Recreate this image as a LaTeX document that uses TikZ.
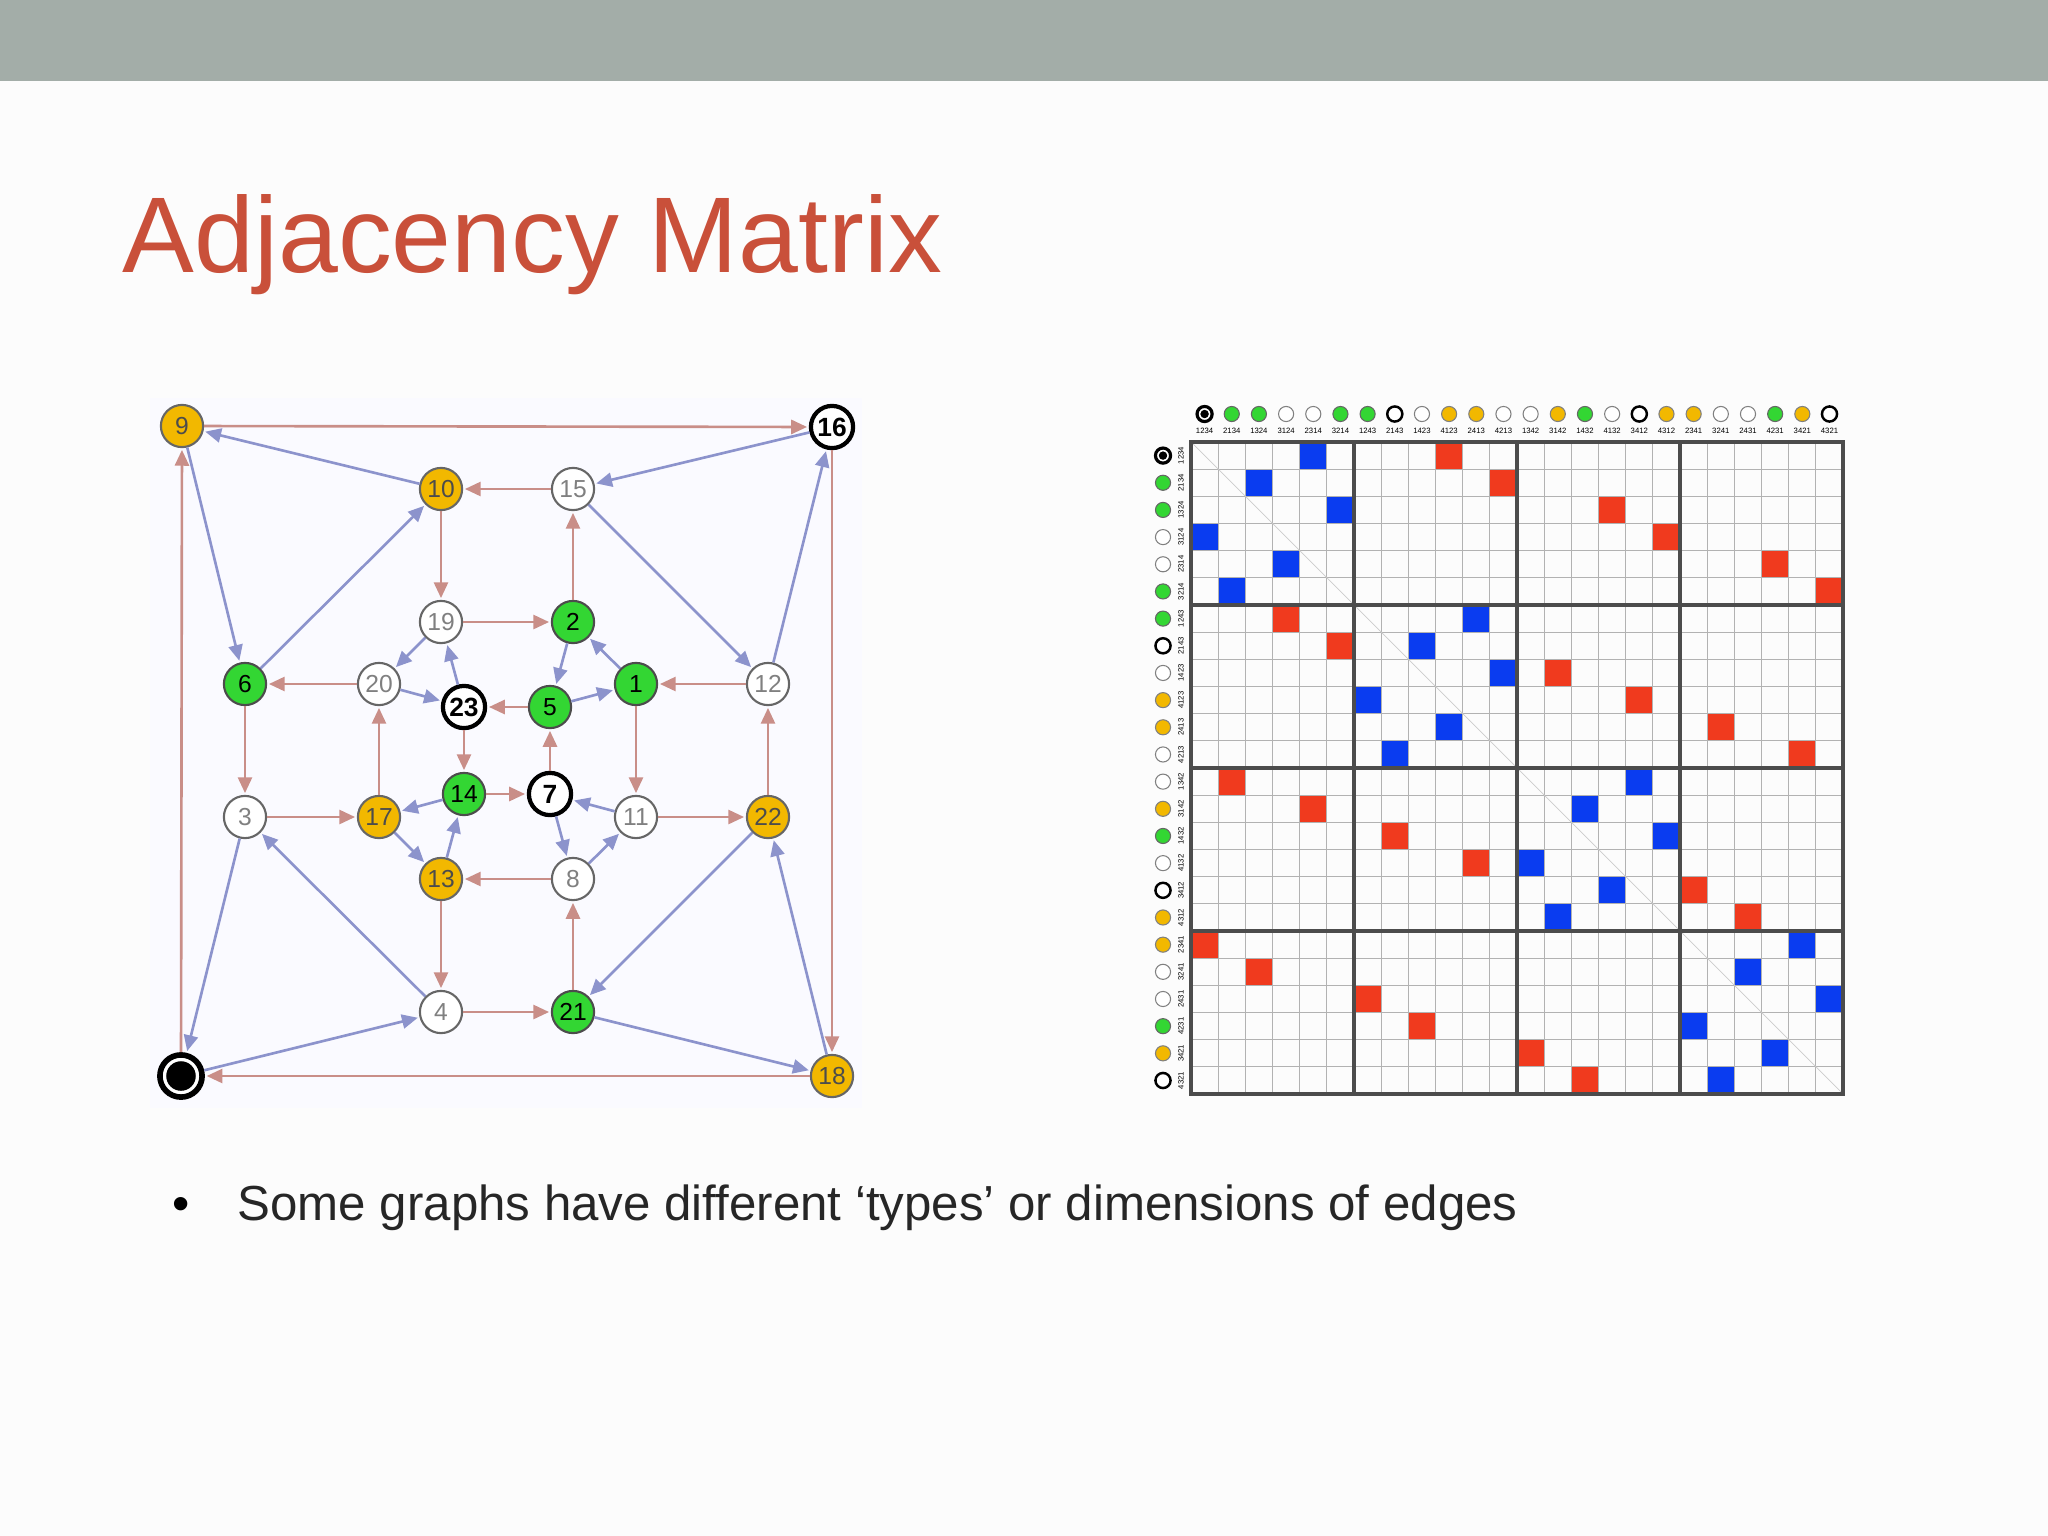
\documentclass[tikz,border=0pt]{standalone}
\usepackage{fontspec}
\setmainfont{Liberation Sans}
\usetikzlibrary{arrows.meta}
\definecolor{barc}{HTML}{A3ADA8}
\definecolor{titlec}{HTML}{C9503A}
\definecolor{redE}{HTML}{C98E88}
\definecolor{bluE}{HTML}{8C93CC}
\definecolor{gfill}{HTML}{33D633}
\definecolor{yfill}{HTML}{F2B800}
\definecolor{mred}{HTML}{F03A1E}
\definecolor{mblue}{HTML}{0A3CF0}
\tikzset{
 nd/.style={circle,draw=gray!80!black,line width=0.6pt,minimum size=12pt,inner sep=0pt,font=\fontsize{7}{7}\selectfont},
 gn/.style={nd,fill=gfill,draw=black!70},
 yn/.style={nd,fill=yfill,draw=black!60,text=black!70},
 wn/.style={nd,fill=white,text=gray},
 bn/.style={nd,fill=white,draw=black,line width=1.2pt,font=\fontsize{7.5}{7.5}\selectfont\bfseries},
 re/.style={draw=redE,line width=0.75pt,-{Triangle[length=4.5pt,width=4pt]},shorten >=0.5pt},
 be/.style={draw=bluE,line width=0.75pt,-{Triangle[length=4.5pt,width=4pt]},shorten >=0.5pt},
 mc/.style={circle,draw=black!60,line width=0.3pt,minimum size=4.3pt,inner sep=0pt},
 tiny/.style={font=\fontsize{2.2}{2.2}\selectfont,inner sep=0pt}
}
\begin{document}
\begin{tikzpicture}[x=0.01cm,y=-0.01cm]
\useasboundingbox (0,0) rectangle (2048,1536);
\fill[white!98!gray] (0,0) rectangle (2048,1536);
\fill[barc] (0,0) rectangle (2048,81);
\node[anchor=base west,text=titlec,font=\fontsize{30.6}{32}\selectfont,inner sep=0pt] (title) at (122,272) {Adjacency Matrix};
\node[anchor=base west,font=\fontsize{14}{16}\selectfont,inner sep=0pt] (bul) at (172,1220) {\textbullet};
\node[anchor=base west,font=\fontsize{14}{16}\selectfont,inner sep=0pt,text=black!85] (txt) at (237,1220) {Some graphs have different ‘types’ or dimensions of edges};
% graph background
\fill[blue!2] (150,398) rectangle (862,1108);
% nodes
\node[yn] (n9) at (182,426) {9};
\node[bn] (n16) at (832,427) {16};
\node[nd,fill=white,draw=black,line width=1.6pt] (n0) at (181,1076) {};
\fill[black] (n0.center) circle (4.2pt);
\node[yn] (n18) at (832,1076) {18};
\node[yn] (n10) at (441,489) {10};
\node[wn] (n15) at (573,489) {15};
\node[wn] (n19) at (441,622) {19};
\node[gn] (n2) at (573,622) {2};
\node[gn] (n6) at (245,684) {6};
\node[wn] (n20) at (379,684) {20};
\node[bn] (n23) at (464,707) {23};
\node[gn] (n5) at (550,707) {5};
\node[gn] (n1) at (636,684) {1};
\node[wn] (n12) at (768,684) {12};
\node[gn] (n14) at (464,794) {14};
\node[bn] (n7) at (550,794) {7};
\node[wn] (n3) at (245,817) {3};
\node[yn] (n17) at (379,817) {17};
\node[wn] (n11) at (636,817) {11};
\node[yn] (n22) at (768,817) {22};
\node[yn] (n13) at (441,879) {13};
\node[wn] (n8) at (573,879) {8};
\node[wn] (n4) at (441,1012) {4};
\node[gn] (n21) at (573,1012) {21};
% red edges
\foreach \a/\b in {9/16,16/18,18/0,0/9,15/10,10/19,19/2,2/15,12/1,1/11,11/22,22/12,8/13,13/4,4/21,21/8,20/6,6/3,3/17,17/20,5/23,23/14,14/7,7/5}
  \draw[re] (n\a) -- (n\b);
% blue edges
\foreach \a/\b in {10/9,9/6,6/10,16/15,15/12,12/16,22/21,21/18,18/22,3/0,0/4,4/3,19/20,20/23,23/19,2/5,5/1,1/2,11/7,7/8,8/11,14/17,17/13,13/14}
  \draw[be] (n\a) -- (n\b);
% matrix
\def\L{1191}\def\T{442}\def\C{27.17}
\foreach \r/\b/\d in {0/4/9,1/2/11,2/5/15,3/0/17,4/3/21,5/1/23,6/10/3,7/8/5,8/11/13,9/6/16,10/9/19,11/7/22,12/16/1,13/14/4,14/17/7,15/12/10,16/15/18,17/13/20,18/22/0,19/20/2,20/23/6,21/18/8,22/21/12,23/19/14}{
  \fill[mblue] ({\L+\b*\C},{\T+\r*\C}) rectangle ++(\C,\C);
  \fill[mred] ({\L+\d*\C},{\T+\r*\C}) rectangle ++(\C,\C);
}
\foreach \k in {1,...,23}{
  \draw[gray!60,line width=0.3pt] ({\L+\k*\C},\T) -- ++(0,24*\C);
  \draw[gray!60,line width=0.3pt] (\L,{\T+\k*\C}) -- ++(24*\C,0);
}
\draw[gray!40,line width=0.2pt] (\L,\T) -- ++(24*\C,24*\C);
\foreach \k in {6,12,18}{
  \draw[black!70,line width=0.9pt] ({\L+\k*\C},\T) -- ++(0,24*\C);
  \draw[black!70,line width=0.9pt] (\L,{\T+\k*\C}) -- ++(24*\C,0);
}
\draw[black!70,line width=1pt] (\L,\T) rectangle ++(24*\C,24*\C);
% headers
\foreach \i/\t/\p in {0/b/1234,1/g/2134,2/g/1324,3/w/3124,4/w/2314,5/g/3214,6/g/1243,7/k/2143,8/w/1423,9/y/4123,10/y/2413,11/w/4213,12/w/1342,13/y/3142,14/g/1432,15/w/4132,16/k/3412,17/y/4312,18/y/2341,19/w/3241,20/w/2431,21/g/4231,22/y/3421,23/k/4321}{
  \def\fc{white}\def\dc{gray}\def\lw{0.3pt}
  \if\t g\def\fc{gfill}\def\dc{black!60}\fi
  \if\t y\def\fc{yfill}\def\dc{black!50}\fi
  \if\t k\def\dc{black}\def\lw{0.7pt}\fi
  \if\t b\def\dc{black}\def\lw{0.9pt}\fi
  \node[mc,fill=\fc,draw=\dc,line width=\lw] (h\i) at ({\L+(\i+0.5)*\C},414) {};
  \node[mc,fill=\fc,draw=\dc,line width=\lw] (v\i) at (1163,{\T+(\i+0.5)*\C}) {};
  \if\t b\fill[black] (h\i.center) circle (1.2pt); \fill[black] (v\i.center) circle (1.2pt);\fi
  \node[tiny] (ht\i) at ({\L+(\i+0.5)*\C},431) {\p};
  \node[tiny,rotate=90] (vt\i) at (1181,{\T+(\i+0.5)*\C}) {\p};
}
\end{tikzpicture}
\end{document}
